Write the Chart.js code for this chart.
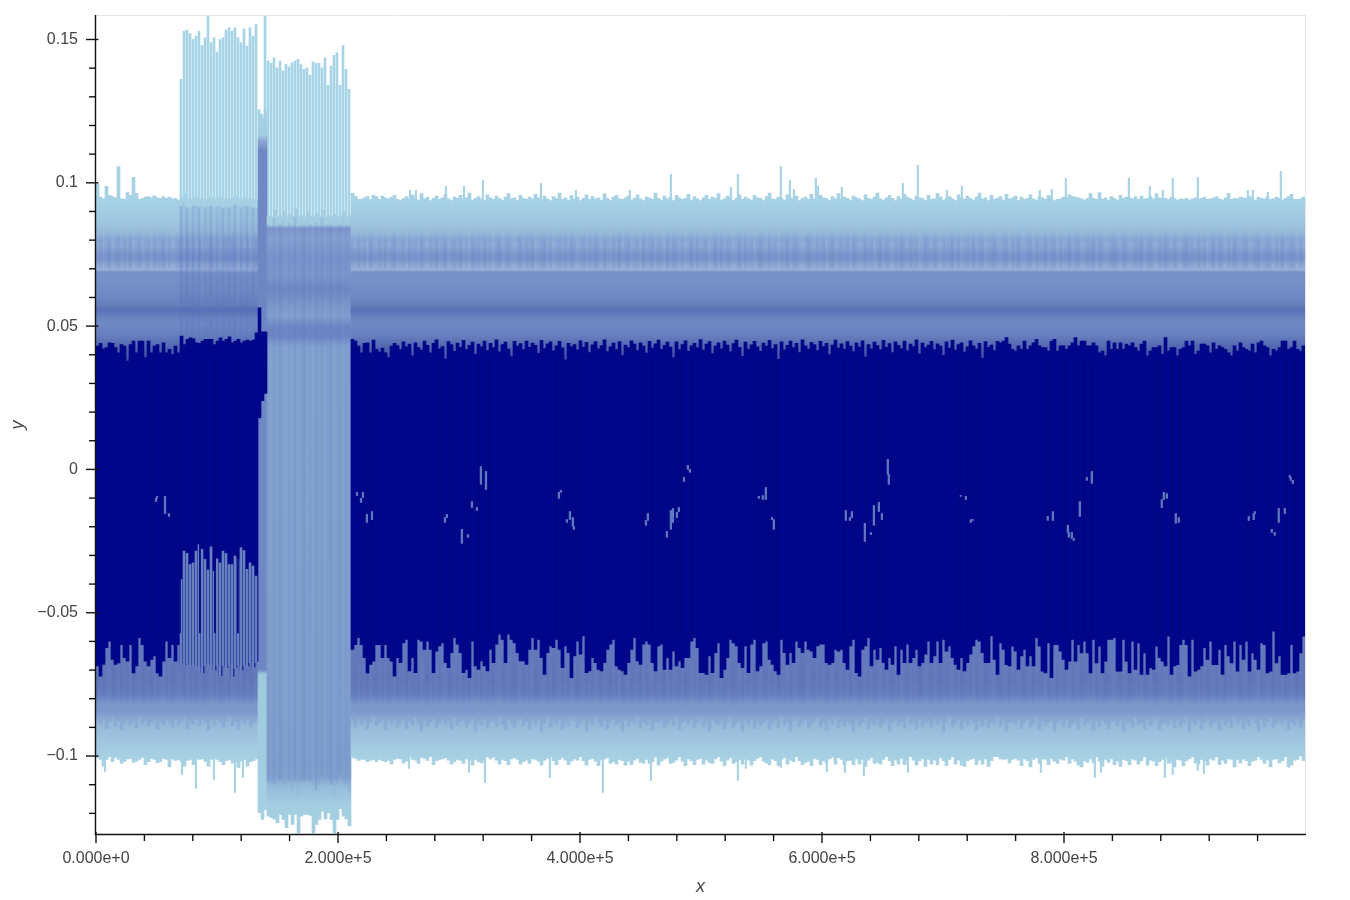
<!DOCTYPE html>
<html>
<head>
<meta charset="utf-8">
<title>Signal envelope</title>
<script src="https://cdn.jsdelivr.net/npm/chart.js@4"></script>
<style>
    html, body { margin: 0; background: #fff; }
    canvas { display: block; }
</style>
</head>
<body>
<canvas id="signalChart" width="1350" height="900"></canvas>
<script>
// y values below are stored in units of 1e-4, one entry per raster column
const yUnit = 1e-4;
const xMax = 999174;
const columnCount = 403;

const xTicks = [0, 200000, 400000, 600000, 800000];
const xTickLabels = ['0.000e+0', '2.000e+5', '4.000e+5', '6.000e+5', '8.000e+5'];
const xMinorTicks = [40000, 80000, 120000, 160000, 240000, 280000, 320000, 360000, 440000, 480000, 520000, 560000, 640000, 680000, 720000, 760000, 840000, 880000, 920000, 960000];
const yTicks = [-0.1, -0.05, 0, 0.05, 0.1, 0.15];
const yTickLabels = ['\u22120.1', '\u22120.05', '0', '0.05', '0.1', '0.15'];
const yMinorTicks = [-0.12, -0.11, -0.09, -0.08, -0.07, -0.06, -0.04, -0.03, -0.02, -0.01, 0.01, 0.02, 0.03, 0.04, 0.06, 0.07, 0.08, 0.09, 0.11, 0.12, 0.13, 0.14];

// outer envelope, top side
const topEdge = [
    995,950,944,988,956,952,948,1057,944,942,966,956,1019,962,942,945,950,952,948,955,
    948,946,952,946,950,944,946,940,946,960,944,942,948,950,944,946,942,950,948,944,
    946,950,942,946,944,948,952,946,942,950,946,948,944,940,1240,1225,1250,885,880,905,
    882,884,900,880,890,884,910,882,886,880,900,884,880,892,884,905,880,886,882,890,
    880,884,900,882,884,963,954,942,942,948,952,942,956,952,942,954,948,944,950,956,
    942,938,946,952,944,958,948,940,962,944,950,938,946,954,942,948,960,944,938,950,
    946,956,942,948,964,940,946,952,944,938,958,948,942,954,946,940,950,962,944,948,
    938,956,946,942,950,944,960,948,940,954,944,938,952,946,964,942,948,940,956,944,
    950,938,946,958,942,952,944,948,940,962,946,938,950,956,944,942,948,954,940,946,
    958,944,938,950,948,942,964,946,940,954,944,950,938,956,948,942,946,960,940,952,
    944,938,948,956,942,950,946,962,940,944,954,948,938,946,958,942,950,944,940,956,
    948,946,938,952,964,944,942,950,946,940,958,948,944,954,938,946,950,942,960,944,
    940,956,948,946,938,952,944,962,942,950,946,940,954,948,944,938,958,946,942,950,
    964,944,940,948,956,946,938,952,942,960,950,944,940,954,948,946,938,956,942,944,
    962,950,940,946,952,944,938,958,948,942,954,946,940,950,964,944,948,938,956,942,
    946,952,940,960,944,948,954,938,950,942,946,958,944,940,952,948,942,956,946,938,
    942,944,950,946,958,952,950,948,944,940,946,962,946,942,966,944,948,940,952,946,
    940,956,946,950,948,944,952,942,954,944,946,952,944,962,948,944,946,942,950,946,
    940,944,942,946,940,944,948,942,946,950,942,944,948,952,944,940,948,962,942,946,
    944,950,948,946,954,946,940,950,946,944,952,942,944,950,946,940,946,952,960,942,
    942,944,950,946,942,946,952,940,944,948,960,946,942,956,944,960,948,940,944,954,
    948,944,942,946,950,962,
    942,944,946,948,954,962,944,942,948,944,960
];

// outer envelope, bottom side
const bottomEdge = [
    -1005,-1012,-1035,-1012,-1002,-1020,-1005,-1012,-1026,-1020,-1010,-1008,-1022,-1018,-1012,-1005,-1030,-1020,-1008,-1012,
    -1024,-1020,-1008,-1012,-1038,-1010,-1015,-1012,-1020,-1035,-1015,-1012,-1030,-1008,-1012,-1010,-1020,-1036,-1012,-1008,
    -1012,-1020,-1030,-1016,-1012,-1025,-1020,-1040,-1018,-1012,-1035,-1020,-1016,-1010,-1198,-1221,-1186,-1210,-1215,-1219,
    -1233,-1204,-1221,-1250,-1204,-1239,-1204,-1268,-1210,-1204,-1204,-1207,-1268,-1239,-1221,-1192,-1219,-1198,-1221,-1268,
    -1221,-1184,-1210,-1219,-1244,-1005,-1008,-1015,-1012,-1012,-1020,-1015,-1012,-1020,-1012,-1016,-1020,-1015,-1028,-1012,
    -1008,-1010,-1025,-1018,-1000,-1012,-1014,-1026,-1005,-1008,-1015,-1002,-1030,-1016,-1012,-1010,-1006,-1014,-1028,-1020,
    -1012,-1015,-1026,-1010,-1014,-1032,-1012,-1020,-1024,-1015,-1002,-1010,-1004,-1014,-1028,-1012,-1016,-1030,-1010,-1006,
    -1012,-1028,-1020,-1014,-1026,-1010,-1012,-1018,-1032,-1014,-1008,-1002,-1016,-1030,-1012,-1006,-1014,-1030,-1018,-1010,
    -1014,-1002,-1016,-1032,-1012,-1008,-1018,-1034,-1014,-1010,-1006,-1026,-1020,-1028,-1012,-1016,-1032,-1018,-1030,-1014,
    -1008,-1022,-1026,-1012,-1026,-1020,-1004,-1032,-1018,-1010,-1006,-1026,-1022,-1014,-1002,-1018,-1034,-1010,-1016,-1030,
    -1012,-1008,-1028,-1014,-1022,-1026,-1010,-1002,-1018,-1034,-1014,-1006,-1026,-1020,-1012,-1028,-1010,-1014,-1032,-1016,
    -1008,-1002,-1018,-1024,-1030,-1010,-1016,-1034,-1012,-1006,-1028,-1014,-1020,-1002,-1016,-1030,-1022,-1018,-1034,-1008,
    -1012,-1030,-1016,-1024,-1010,-1004,-1028,-1006,-1012,-1032,-1016,-1014,-1030,-1010,-1028,-1012,-1036,-1014,-1006,-1026,
    -1022,-1028,-1012,-1002,-1016,-1034,-1014,-1028,-1008,-1030,-1018,-1002,-1014,-1032,-1016,-1010,-1036,-1012,-1028,-1014,
    -1030,-1006,-1016,-1034,-1012,-1002,-1028,-1014,-1032,-1036,-1016,-1012,-1008,-1030,-1014,-1028,-1010,-1036,-1016,-1002,
    -1002,-1010,-1012,-1010,-1024,-1012,-1008,-1014,-1034,-1010,-1016,-1038,-1012,-1006,-1026,-1010,-1012,-1030,-1008,-1018,
    -1026,-1010,-1014,-1002,-1026,-1010,-1018,-1032,-1038,-1016,-1022,-1010,-1024,-1002,-1018,-1036,-1012,-1022,-1010,-1030,
    -1018,-1036,-1012,-1016,-1030,-1010,-1014,-1028,-1016,-1002,-1032,-1014,-1018,-1034,-1020,-1012,-1004,-1026,-1022,-1038,
    -1012,-1014,-1034,-1016,-1010,-1002,-1024,-1028,-1012,-1016,-1032,-1010,-1014,-1002,-1030,-1014,-1026,-1010,-1012,-1038,
    -1012,-1024,-1010,-1016,-1034,-1018,-1014,-1002,-1012,-1026,-1014,-1038,-1012,-1010,-1024,-1016,-1002,-1036,-1032,-1014,
    -1012,-1000,-1016
];

// dense core, upper limit (no core inside the 145k-212k window)
const coreTop = [
    430,440,421,425,442,440,425,407,436,430,378,436,448,407,448,448,390,448,407,430,
    436,407,442,407,419,401,430,407,465,436,454,459,456,442,440,448,454,454,454,436,
    448,459,448,454,463,442,448,454,442,448,451,448,451,477,564,480,480,null,null,null,
    null,null,null,null,null,null,null,null,null,null,null,null,null,null,null,null,null,null,null,null,
    null,null,null,null,null,454,448,430,407,440,442,407,451,419,409,423,407,390,430,440,
    432,418,445,428,437,396,442,425,416,448,433,407,440,452,421,429,385,446,436,412,
    441,426,450,418,433,444,402,437,428,448,415,440,425,452,410,436,444,420,394,447,
    430,439,418,448,426,441,433,405,450,422,438,445,414,431,447,424,382,440,429,436,
    417,449,427,443,408,435,446,421,432,452,411,428,441,418,446,398,434,425,449,437,
    415,442,430,406,447,423,438,451,419,433,444,427,390,445,418,436,449,412,431,440,
    425,453,416,437,446,404,430,442,421,448,434,410,439,451,426,395,444,419,435,447,
    428,412,441,430,450,422,436,384,445,417,433,448,425,440,408,452,431,420,443,436,
    415,447,429,440,401,434,451,423,438,419,446,430,411,442,427,449,393,436,421,444,
    432,417,450,426,439,408,445,433,422,448,414,437,429,452,403,441,425,434,447,418,
    438,430,398,445,423,451,416,436,442,409,428,449,431,420,440,388,446,426,434,415,
    447,442,448,460,437,419,413,431,419,448,419,431,442,454,431,425,425,413,448,454,
    413,431,431,419,431,442,460,431,448,448,431,431,442,431,407,413,396,448,419,442,
    419,442,419,437,431,442,425,413,437,448,396,413,425,425,431,402,460,413,425,425,
    396,419,425,448,431,448,402,413,437,437,431,407,442,419,431,425,419,407,396,431,
    413,442,425,419,413,437,407,442,448,431,425,396,419,413,425,448,448,419,425,448,
    419,413,431
];

// dense core, lower limit
const coreBottom = [
    -686,-721,-680,-622,-599,-663,-680,-675,-611,-657,-669,-611,-710,-686,-587,-611,-669,-686,-663,-651,
    -710,-721,-669,-599,-657,-611,-669,-611,-680,-680,-675,-683,-680,-686,-690,-710,-680,-680,-680,-700,
    -680,-720,-680,-690,-680,-722,-690,-680,-700,-680,-686,-670,-690,-670,180,240,265,null,null,null,
    null,null,null,null,null,null,null,null,null,null,null,null,null,null,null,null,null,null,null,null,
    null,null,null,null,null,-628,-611,-587,-611,-657,-710,-680,-669,-611,-611,-657,-611,-657,-669,-721,
    -657,-674,-605,-593,-703,-657,-709,-593,-599,-628,-599,-628,-709,-634,-616,-605,-674,-692,-639,-587,
    -610,-639,-709,-698,-727,-599,-686,-698,-668,-686,-703,-628,-674,-610,-575,-593,-674,-575,-593,-605,
    -639,-668,-668,-680,-628,-587,-628,-593,-657,-715,-639,-616,-622,-593,-628,-692,-616,-639,-727,-651,
    -599,-645,-581,-709,-703,-657,-674,-698,-703,-674,-628,-610,-593,-686,-698,-703,-715,-674,-628,-587,
    -668,-680,-610,-599,-610,-674,-703,-616,-610,-698,-657,-698,-634,-686,-668,-692,-657,-657,-599,-587,
    -622,-709,-709,-715,-651,-709,-639,-605,-727,-698,-657,-593,-605,-616,-674,-692,-616,-709,-610,-593,
    -703,-686,-605,-599,-663,-680,-703,-715,-593,-639,-680,-639,-674,-599,-622,-639,-599,-628,-634,-657,
    -616,-610,-610,-674,-680,-674,-628,-634,-628,-674,-698,-616,-593,-709,-721,-628,-616,-587,-686,-628,
    -663,-622,-674,-698,-657,-680,-616,-715,-628,-674,-610,-674,-657,-628,-686,-674,-645,-599,-674,-651,
    -599,-674,-593,-634,-616,-657,-680,-698,-657,-703,-674,-645,-616,-593,-599,-639,-674,-674,-581,-663,
    -715,-605,-628,-681,-686,-617,-634,-698,-651,-628,-686,-651,-686,-587,-617,-704,-710,-605,-727,-611,
    -611,-634,-663,-698,-669,-593,-669,-611,-640,-599,-640,-710,-593,-675,-617,-710,-669,-593,-593,-587,
    -704,-704,-593,-669,-710,-599,-698,-605,-715,-640,-715,-692,-698,-617,-657,-669,-686,-582,-715,-686,
    -681,-611,-593,-611,-721,-593,-704,-698,-686,-622,-663,-599,-681,-681,-628,-715,-611,-651,-675,-599,
    -704,-611,-663,-599,-704,-640,-663,-698,-605,-611,-710,-704,-564,-675,-651,-715,-715,-710,-611,-710,
    -704,-640,-582
];

// lower reach of the mid-blue band per column
const midReach = [
    -872,-890,-868,-905,-880,-866,-896,-876,-910,-884,-870,-892,-878,-902,-866,-888,-874,-898,-882,-868,
    -906,-876,-890,-870,-884,-900,-872,-892,-880,-866,-904,-878,-888,-872,-896,-868,-884,-910,-874,-892,
    -870,-882,-900,-876,-866,-894,-880,-906,-872,-888,-868,-898,-884,-876,null,null,null,null,null,null,
    null,null,null,null,null,null,null,null,null,null,null,null,null,null,null,null,null,null,null,null,
    null,null,null,null,null,-878,-900,-868,-890,-874,-906,-880,-866,-894,-884,-872,-910,-876,-888,-868,
    -898,-882,-870,-904,-878,-892,-866,-886,-912,-874,-896,-880,-868,-902,-884,-872,-890,-876,-908,-866,
    -894,-880,-874,-900,-886,-868,-914,-878,-892,-870,-904,-882,-876,-896,-866,-888,-910,-872,-884,-900,
    -874,-868,-894,-880,-906,-876,-890,-870,-916,-884,-866,-898,-878,-888,-872,-908,-882,-894,-868,-876,
    -902,-886,-870,-912,-880,-892,-866,-884,-898,-874,-906,-878,-868,-890,-882,-914,-872,-896,-876,-886,
    -866,-904,-880,-892,-870,-910,-878,-884,-868,-900,-888,-874,-894,-866,-908,-882,-876,-890,-872,-902,
    -884,-868,-896,-878,-912,-870,-886,-892,-874,-906,-880,-866,-898,-884,-876,-916,-872,-890,-868,-904,
    -878,-894,-882,-870,-908,-886,-874,-900,-866,-892,-880,-912,-876,-868,-896,-884,-872,-904,-888,-878,
    -866,-898,-882,-910,-874,-890,-868,-902,-880,-894,-876,-886,-914,-870,-896,-884,-866,-906,-878,-892,
    -872,-900,-886,-868,-912,-882,-874,-894,-880,-904,-866,-888,-876,-908,-870,-896,-884,-878,-900,-868,
    -890,-874,-916,-882,-866,-898,-886,-872,-906,-878,-892,-868,-884,-910,-876,-894,-870,-902,-880,-888,
    -866,-896,-874,-912,-884,-878,-890,-868,-904,-882,-872,-898,-886,-866,-908,-876,-892,-880,-870,-914,
    -884,-874,-896,-868,-902,-888,-878,-906,-866,-892,-882,-872,-910,-876,-898,-870,-886,-904,-880,-868,
    -894,-874,-912,-884,-878,-900,-866,-890,-882,-906,-872,-896,-876,-868,-908,-886,-880,-892,-870,-902,
    -874,-898,-884,-866,-914,-878,-890,-872,-904,-882,-868,-896,-886,-876,-910,-870,-892,-880,-900,-866,
    -888,-874,-906,-878,-894,-868,-884,-912,-872,-898,-880,-866,-902,-886,-876,-890,-870,-908,-882,-894,
    -868,-900,-876
];

// mottling strength of the bands, single step per column
const bandNoise = [
    3,6,2,5,8,1,4,7,2,6,3,8,1,5,7,2,4,6,1,7,3,5,8,2,6,1,4,7,5,2,8,3,6,1,7,4,2,5,8,3,
    6,1,4,7,2,8,5,3,6,1,7,2,4,8,0,0,0,0,0,0,0,0,0,0,0,0,0,0,0,0,0,0,0,0,0,0,0,0,0,0,
    0,0,0,0,0,5,2,7,3,6,1,8,4,2,6,3,7,1,5,8,2,4,6,1,7,3,5,2,8,4,1,6,3,7,2,5,8,1,4,6,
    3,7,2,5,1,8,4,6,2,7,3,5,1,6,8,2,4,7,3,1,5,8,2,6,4,7,1,3,5,8,2,6,1,4,7,3,6,2,8,5,
    1,4,7,2,6,3,8,5,1,7,4,2,6,3,8,1,5,7,2,4,6,1,8,3,5,7,2,6,4,1,8,3,7,5,2,6,1,4,8,3,
    7,2,5,6,1,4,8,3,7,2,6,5,1,4,8,2,7,3,6,1,5,8,4,2,7,3,6,1,5,4,8,2,6,7,3,1,5,8,4,2,
    6,3,7,1,5,8,2,4,6,3,7,1,8,5,2,4,7,3,6,1,5,8,2,7,4,1,6,3,8,5,2,7,4,6,1,3,8,5,2,7,
    4,1,6,3,5,8,2,7,1,4,6,3,8,2,5,7,1,4,6,8,3,2,5,7,1,6,4,8,3,2,5,7,1,6,4,3,8,2,5,7,
    1,6,3,4,8,2,5,7,1,3,6,4,8,2,7,5,1,3,6,8,4,2,7,5,1,3,6,4,8,2,5,7,3,1,6,4,8,5,2,7,
    3,1,6,8,4,5,2,7,3,6,1,4,8,2,7,5,1,6,3,8,4,2,5,7,1,3,6,8,2,4,7,5,1,6,3,8,2,4,7,5,
    1,6,3
];

// narrow bursts above the envelope, columns 28 to 84
const burstTop = [
    1361,1529,1533,1521,1500,1512,1529,1479,1506,1584,1489,1506,1456,1500,1506,1533,1541,1529,1541,1506,
    1489,1537,1477,1541,1512,1553,1256,1240,1584,1425,1417,1436,1401,1425,1390,1413,1405,1419,1425,1431,
    1413,1396,1401,1376,1422,1417,1417,1401,1436,1340,1407,1445,1454,1340,1479,1396,1326
];

// narrow bursts cutting up into the core, columns 28 to 53
const burstLow = [
    -384,-285,-293,-332,-326,-285,-262,-279,-314,-351,-270,-355,-312,-326,-285,-293,-332,-332,-302,-314,
    -273,-283,-349,-326,-337,-372
];

// vertical streak strength in percent, columns 28 to 84
const streakAlpha = [
    30,12,26,10,24,14,28,8,22,12,26,10,20,14,28,10,24,12,26,8,
    22,14,26,10,24,12,0,0,0,14,6,18,4,22,10,2,16,8,20,4,
    12,24,6,16,2,20,10,18,6,14,22,4,12,20,8,16,10
];

// isolated spikes past the envelope: x position and tip
const upSpikeX = [259500, 264400, 289200, 304100, 319800, 367700, 396600, 441200, 475100, 524700, 530500, 566000, 573500, 576800, 594900, 596600, 616400, 666800, 679200, 703200, 715600, 780000, 789900, 801500, 853600, 870900, 881700, 889900, 910600, 951900, 956100, 968500, 979200];
const upSpikeTip = [974, 974, 988, 988, 1009, 998, 974, 974, 1030, 984, 1030, 1057, 1009, 977, 1016, 988, 984, 998, 1061, 974, 988, 974, 977, 1016, 1016, 988, 974, 1016, 1019, 974, 974, 967, 1040];
const downSpikeX = [7400, 71100, 82600, 97500, 114900, 121500, 258600, 308200, 321400, 375100, 418900, 458600, 530500, 537100, 566000, 604000, 618900, 634600, 671000, 780900, 825500, 830500, 883300, 889900, 910600, 915600, 985800];
const downSpikeTip = [-1054, -1064, -1113, -1082, -1127, -1075, -1043, -1057, -1092, -1075, -1127, -1085, -1085, -1043, -1040, -1054, -1057, -1068, -1057, -1057, -1075, -1057, -1075, -1064, -1050, -1061, -1040];

// sparse points left showing inside the core
const gapX = [49600, 50400, 57000, 60300, 215700, 220600, 219000, 228100, 223900, 290000, 288400, 302400, 307400, 310700, 314800, 318100, 322300, 384200, 382600, 391700, 389200, 394100, 395000, 456100, 454500, 471800, 475100, 476800, 480100, 481700, 489200, 490800, 485900, 547800, 551100, 553600, 560200, 558600, 619700, 624700, 623000, 635400, 640400, 642900, 647000, 649500, 654400, 655200, 714700, 718900, 723000, 724700, 786600, 790800, 803200, 804000, 806500, 808100, 813100, 818900, 823000, 880800, 882500, 885000, 892400, 894900, 952700, 956800, 957700, 971700, 974200, 977500, 982500, 986600, 987400, 989100];
const gapTop = [-101, -94, -94, -154, -80, -80, -101, -147, -157, -157, -168, -209, -227, -112, -133, 10, -7, -73, -80, -147, -175, -168, -199, -154, -178, -216, -143, -136, -150, -133, 14, 0, -28, -94, -91, -63, -175, -168, -143, -147, -168, -188, -220, -126, -115, -154, 35, -17, -91, -94, -175, -175, -164, -147, -195, -220, -220, -241, -112, -28, -7, -105, -80, -84, -154, -168, -164, -154, -147, -209, -220, -136, -136, -21, -28, -38];
const gapBottom = [-112, -101, -154, -164, -91, -98, -115, -175, -185, -168, -185, -258, -237, -133, -143, -52, -70, -80, -101, -175, -185, -199, -209, -178, -195, -237, -209, -185, -168, -147, 0, -10, -42, -101, -105, -105, -209, -175, -178, -168, -178, -251, -227, -195, -147, -175, -17, -52, -94, -105, -185, -178, -178, -178, -220, -237, -241, -248, -164, -38, -49, -133, -105, -101, -188, -185, -178, -175, -154, -220, -230, -185, -154, -28, -38, -49];

// slightly darker hairlines running through the core
const hairlineX = [47100, 55400, 62800, 69400, 85900, 98300, 117300, 221500, 228900, 285100, 292500, 309000, 316500, 324700, 380100, 388400, 396600, 452000, 459400, 467700, 475900, 483400, 492500, 546200, 555300, 562700, 618100, 626300, 635400, 642900, 650300, 713900, 720500, 729600, 785800, 800700, 808900, 816400, 823800, 880000, 889100, 895700, 951900, 967600, 984100, 990700];

// colour ramps over y, one per stretch of the trace
const normalRampY = [942, 873, 820, 803, 782, 750, 733, 715, 698, 688, 611, 576, 555, 530, 506, 471, 443, 419, 384, -524, -628, -698, -733, -785, -820, -845, -866, -907, -960, -1012];
const normalRampColor = ['#a7d2e5', '#a0c8e0', '#96b9da', '#8fadd6', '#93b2d8', '#8099cd', '#7e98cc', '#94aed6', '#9ab4d9', '#7892c9', '#6f8ac3', '#6580bc', '#5a70b6', '#6a84c0', '#7089c4', '#6880bf', '#5a70b5', '#4e63ad', '#3f52a5', '#5f78ba', '#6279bb', '#5f74b8', '#5d72b6', '#6078ba', '#7a95ca', '#7c98cc', '#92b2d7', '#99bcdb', '#a2c8e0', '#a8d2e4'];
const windowRampY = [879, 852, 841, 803, 743, 674, 628, 569, 534, 499, 464, 429, 394, -1040, -1075, -1100, -1176];
const windowRampColor = ['#a5cde2', '#a3cbe0', '#8199cc', '#87a4d2', '#7b96cd', '#7d9acc', '#7089c4', '#7f9ccc', '#85a2d0', '#7088c4', '#6f88c4', '#85a4d2', '#86a6d0', '#82a2ce', '#84a6d0', '#93b9d9', '#a4cfe1'];
const edgeRampY = [1211, 1165, 1148, 1113, 593, 244, -698, -716, -1198];
const edgeRampColor = ['#a6d0e3', '#a2cbe1', '#8ea9d5', '#6f89c4', '#6c86c2', '#6f88c4', '#6f88c4', '#9ecadd', '#a5cfe2'];
const upperNoiseRampY = [835, 790, 710, 692];
const lowerNoiseRampY = [-640, -700, -800, -850];

const burstStart = 28;
const edgeStart = 54;
const windowStart = 57;
const windowEnd = 84;

const columnStep = xMax / columnCount;
const columnX = i => (i + 0.5) * columnStep;
const narrowX = i => columnX(i) - columnStep / 6;
const toY = v => v * yUnit;

const rampCache = {};
function rampFill(chart, key, rampY, rampColor) {
    const area = chart.chartArea;
    if (!area) return rampColor[0];
    if (!rampCache[key]) {
        const yScale = chart.scales.y;
        const grad = chart.ctx.createLinearGradient(0, area.top, 0, area.bottom);
        rampY.forEach((v, n) => {
            const pos = (yScale.getPixelForValue(toY(v)) - area.top) / (area.bottom - area.top);
            grad.addColorStop(Math.min(1, Math.max(0, pos)), rampColor[n]);
        });
        rampCache[key] = grad;
    }
    return rampCache[key];
}

function columnFill(ctx) {
    const i = ctx.dataIndex;
    if (i >= windowStart && i <= windowEnd) return rampFill(ctx.chart, 'window', windowRampY, windowRampColor);
    if (i >= edgeStart && i < windowStart) return rampFill(ctx.chart, 'edge', edgeRampY, edgeRampColor);
    return rampFill(ctx.chart, 'normal', normalRampY, normalRampColor);
}

// translucent overlays fade out at both ends so no band edge shows
function noiseFill(ctx, key, rampY, rgb, divisor) {
    const level = bandNoise[ctx.dataIndex] / divisor;
    const clear = `rgba(${rgb}, 0)`;
    const solid = `rgba(${rgb}, ${level})`;
    return rampFill(ctx.chart, key + bandNoise[ctx.dataIndex], rampY, [clear, solid, solid, clear]);
}

const columnData = topEdge.map((top, i) => ({ x: columnX(i), y: [toY(bottomEdge[i]), toY(top)] }));
const coreData = [];
coreTop.forEach((top, i) => {
    if (top !== null) coreData.push({ x: columnX(i), y: [toY(coreBottom[i]), toY(top)] });
});
const midData = [];
midReach.forEach((reach, i) => {
    if (reach !== null) midData.push({ x: columnX(i), y: [toY(reach), toY(-850)] });
});
const burstTopData = burstTop.map((tip, n) => {
    const i = n + burstStart;
    return { x: narrowX(i), y: [toY(topEdge[i] - 2), toY(tip)] };
});
const burstLowData = burstLow.map((tip, n) => {
    const i = n + burstStart;
    return { x: narrowX(i), y: [toY(coreBottom[i] - 4), toY(tip)] };
});
const streakData = streakAlpha.map((a, n) => {
    const i = n + burstStart;
    const inset = i >= windowStart ? 120 : 320;
    return { x: narrowX(i), y: [toY(bottomEdge[i] + inset), toY(topEdge[i] - 30)] };
});
const upperNoiseData = bandNoise.map((n, i) => ({ x: columnX(i), y: [toY(692), toY(835)] }));
const lowerNoiseData = bandNoise.map((n, i) => ({ x: columnX(i), y: [toY(-850), toY(-640)] }));
const upSpikeData = upSpikeX.map((x, n) => ({ x: x, y: [toY(930), toY(upSpikeTip[n])] }));
const downSpikeData = downSpikeX.map((x, n) => ({ x: x, y: [toY(-1000), toY(downSpikeTip[n])] }));
const gapData = gapX.map((x, n) => ({ x: x, y: [toY(gapBottom[n]), toY(gapTop[n])] }));
const hairlineData = hairlineX.map(x => ({ x: x, y: [toY(380), toY(-570)] }));

const lightBlue = '#a6d3e5';
const navy = '#000689';

// spines, frame and tick marks
const axisMarks = {
    id: 'axisMarks',
    afterDatasetsDraw(chart) {
        const { ctx, chartArea: area, scales: { x, y } } = chart;
        const hLine = (x1, x2, yy) => { ctx.beginPath(); ctx.moveTo(x1, yy); ctx.lineTo(x2, yy); ctx.stroke(); };
        const vLine = (xx, y1, y2) => { ctx.beginPath(); ctx.moveTo(xx, y1); ctx.lineTo(xx, y2); ctx.stroke(); };
        ctx.save();
        ctx.strokeStyle = '#e6e6e6';
        ctx.lineWidth = 1;
        hLine(area.left, area.right + 1, area.top - 0.5);
        vLine(area.right + 0.5, area.top - 1, area.bottom);
        ctx.strokeStyle = '#111';
        ctx.lineWidth = 1.4;
        vLine(area.left - 0.5, area.top - 1, area.bottom + 1);
        hLine(area.left - 1, area.right + 1, area.bottom + 0.5);
        yTicks.forEach(v => hLine(area.left - 10, area.left + 2.5, y.getPixelForValue(v)));
        yMinorTicks.forEach(v => hLine(area.left - 7, area.left, y.getPixelForValue(v)));
        xTicks.forEach(v => vLine(x.getPixelForValue(v), area.bottom - 2, area.bottom + 9));
        xMinorTicks.forEach(v => vLine(x.getPixelForValue(v), area.bottom, area.bottom + 7));
        ctx.restore();
    }
};

function barSet(data, fill, thickness) {
    return { data: data, backgroundColor: fill, barThickness: thickness, grouped: false, borderWidth: 0 };
}

new Chart(document.getElementById('signalChart'), {
    type: 'bar',
    data: {
        // first dataset ends up on top
        datasets: [
            barSet(gapData, '#5f79bd', 1.6),
            barSet(hairlineData, '#00057f', 1),
            barSet(burstLowData, '#6781bf', 2),
            barSet(coreData, navy, 3),
            barSet(streakData, ctx => `rgba(85, 110, 190, ${(streakAlpha[ctx.dataIndex] || 0) / 100})`, 2),
            barSet(midData, 'rgba(124, 152, 204, 0.4)', 3),
            barSet(upperNoiseData, ctx => noiseFill(ctx, 'up', upperNoiseRampY, '100, 125, 195', 24), 3),
            barSet(lowerNoiseData, ctx => noiseFill(ctx, 'low', lowerNoiseRampY, '150, 175, 220', 60), 3),
            barSet(columnData, columnFill, 3),
            barSet(burstTopData, lightBlue, 2),
            barSet(upSpikeData, lightBlue, 1.5),
            barSet(downSpikeData, lightBlue, 1.5)
        ]
    },
    options: {
        responsive: false,
        animation: false,
        events: [],
        layout: { padding: { top: 16, right: 45, left: 0, bottom: 0 } },
        plugins: { legend: { display: false }, tooltip: { enabled: false } },
        scales: {
            x: {
                type: 'linear',
                offset: false,
                min: 0,
                max: xMax,
                afterFit: scale => { scale.height = 66; },
                afterBuildTicks: scale => { scale.ticks = xTicks.map(v => ({ value: v })); },
                grid: { display: false },
                border: { display: false },
                ticks: {
                    autoSkip: false,
                    maxRotation: 0,
                    padding: 7,
                    color: '#444',
                    font: { family: 'Liberation Sans', size: 16 },
                    callback: (v, n) => xTickLabels[n]
                },
                title: { display: true, text: 'x', color: '#444', padding: { top: 0, bottom: 2 }, font: { family: 'Liberation Sans', size: 18, style: 'italic' } }
            },
            y: {
                min: -0.1272,
                max: 0.1582,
                afterFit: scale => { scale.width = 96; scale.paddingTop = 0; scale.paddingBottom = 0; },
                afterBuildTicks: scale => { scale.ticks = yTicks.map(v => ({ value: v })); },
                grid: { display: false },
                border: { display: false },
                ticks: {
                    autoSkip: false,
                    padding: 10,
                    color: '#444',
                    font: { family: 'Liberation Sans', size: 16 },
                    callback: (v, n) => yTickLabels[n]
                },
                title: { display: true, text: 'y', color: '#444', padding: { top: 7, bottom: 4 }, font: { family: 'Liberation Sans', size: 18, style: 'italic' } }
            }
        }
    },
    plugins: [axisMarks]
});
</script>
</body>
</html>
